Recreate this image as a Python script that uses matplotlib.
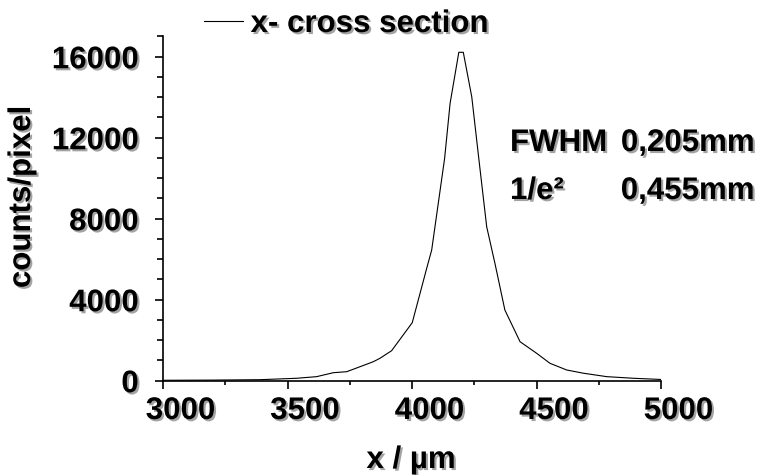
import matplotlib.pyplot as plt
import matplotlib.patheffects as pe
from matplotlib.ticker import MultipleLocator
from matplotlib.transforms import ScaledTranslation

# cross section profile
x_um = [3000, 3200, 3390, 3537, 3617, 3684, 3738, 3791, 3845, 3871, 3918,
        4001, 4059, 4079, 4131, 4153, 4188, 4206, 4240, 4268, 4300, 4333,
        4373, 4434, 4501, 4554, 4621, 4688, 4782, 4889, 4983, 5000]
counts = [20, 30, 50, 120, 200, 395, 445, 690, 940, 1105, 1480,
          2865, 5550, 6450, 10980, 13700, 16220, 16220, 14020, 11000, 7600, 5800,
          3490, 1925, 1350, 860, 530, 370, 200, 120, 70, 60]
legend_label = "x- cross section"
fwhm_text = ("FWHM", "0,205mm")
e2_text = ("1/e\u00b2", "0,455mm")

FS = 22.5
plt.rcParams['font.family'] = ['Liberation Sans', 'DejaVu Sans']
plt.rcParams['font.weight'] = 'bold'
shadow = [pe.withSimplePatchShadow(offset=(1.5, -1.5), shadow_rgbFace='0.55', alpha=0.8)]

fig = plt.figure(figsize=(7.59, 4.75), dpi=100)
ax = fig.add_axes([163 / 759, 1 - 380.7 / 475, (661 - 163) / 759, 344.2 / 475])

ax.plot(x_um, counts, color='black', lw=0.8, label=legend_label)

ax.set_xlim(3000, 5000)
ax.set_ylim(0, 17000)
ax.xaxis.set_major_locator(MultipleLocator(500))
ax.xaxis.set_minor_locator(MultipleLocator(250))
ax.yaxis.set_major_locator(MultipleLocator(4000))
ax.yaxis.set_minor_locator(MultipleLocator(1000))

for s in ['top', 'right']:
    ax.spines[s].set_visible(False)
for s in ['left', 'bottom']:
    ax.spines[s].set_linewidth(1.2)

ax.tick_params(axis='x', which='major', length=6, width=1.2, pad=5, labelsize=FS)
ax.tick_params(axis='x', which='minor', length=3, width=1.2)
ax.tick_params(axis='y', which='major', length=5.5, width=1.2, pad=12, labelsize=FS)
ax.tick_params(axis='y', which='minor', length=4.5, width=1.2)

# tick labels in the original sit a little right of their ticks
shift = ScaledTranslation(0.175, 0, fig.dpi_scale_trans)
for lbl in ax.get_xticklabels():
    lbl.set_transform(lbl.get_transform() + shift)
for lbl in ax.get_xticklabels() + ax.get_yticklabels():
    lbl.set_fontweight('bold')
    lbl.set_path_effects(shadow)

fig.text(411 / 759, 1 - 460 / 475, "x / \u00b5m", ha='center', va='center',
         fontsize=FS, fontweight='bold', path_effects=shadow)
fig.text(22 / 759, 1 - 197 / 475, "counts/pixel", ha='center', va='center',
         rotation=90, fontsize=FS, fontweight='bold', path_effects=shadow)

for (a, b), yc in [(fwhm_text, 143), (e2_text, 191)]:
    fig.text(510 / 759, 1 - yc / 475, a, ha='left', va='center', fontsize=FS,
             fontweight='bold', path_effects=shadow)
    fig.text(755 / 759, 1 - yc / 475, b, ha='right', va='center', fontsize=FS,
             fontweight='bold', path_effects=shadow)

leg = ax.legend(loc='center left', bbox_to_anchor=(204 / 759, 1 - 24 / 475),
                bbox_transform=fig.transFigure, frameon=False, fontsize=FS,
                handlelength=1.24, handletextpad=0.25, borderpad=0, borderaxespad=0)
for t in leg.get_texts():
    t.set_fontweight('bold')
    t.set_path_effects(shadow)

fig.savefig('out.png', dpi=100)
